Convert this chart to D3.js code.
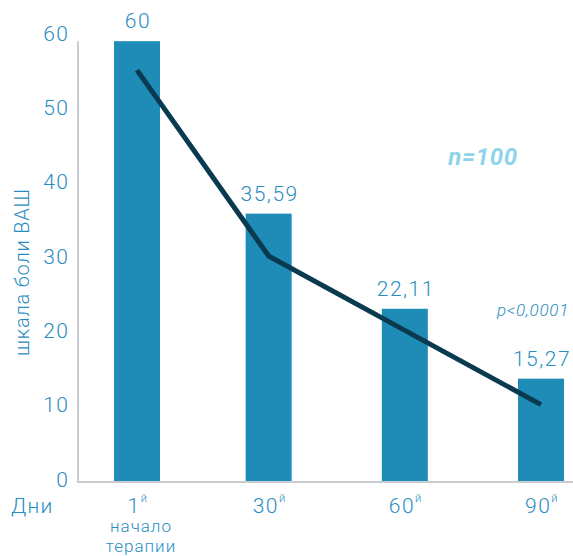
<!DOCTYPE html>
<html>
<head>
<meta charset="utf-8">
<script src="https://cdn.jsdelivr.net/npm/d3@7"></script>
<style>
  body { margin: 0; background: #fff; }
  text { font-family: Roboto, "Liberation Sans", sans-serif; }
</style>
</head>
<body>
<script>
// chart data
const days = [1, 30, 60, 90];
const dayLabels = ["1", "30", "60", "90"];
const barValues = [58.9, 35.7, 22.9, 13.5];
const barLabels = ["60", "35,59", "22,11", "15,27"];
const lineValues = [55, 30, 20, 10];
const yTicks = [0, 10, 20, 30, 40, 50, 60];

const W = 573, H = 556;
const blue = "#1f8cb8", textBlue = "#2a8dbf", dark = "#0a3a50", grey = "#c9cdd1";
const barW = 46;

const svg = d3.select("body").append("svg")
  .attr("width", W).attr("height", H);

const x = d3.scaleLinear().domain([1, 90]).range([137, 541]);
const y = d3.scaleLinear().domain([0, 60]).range([479, 33]);
const base = y(0) + 3;
const left = 78;

function label(sel, size, ls) {
  return sel.style("font-size", size + "px")
    .style("font-weight", 300)
    .style("letter-spacing", ls + "px")
    .attr("fill", textBlue);
}

// bars
svg.selectAll("rect.bar").data(barValues).join("rect")
  .attr("class", "bar")
  .attr("x", (d, i) => x(days[i]) - barW / 2)
  .attr("y", d => y(d))
  .attr("width", barW)
  .attr("height", d => base - y(d))
  .attr("fill", blue);

// axes lines
svg.append("line")
  .attr("x1", left).attr("x2", left)
  .attr("y1", y(d3.max(barValues))).attr("y2", base + 1)
  .attr("stroke", grey).attr("stroke-width", 2);
svg.append("line")
  .attr("x1", left).attr("x2", W)
  .attr("y1", base).attr("y2", base)
  .attr("stroke", grey).attr("stroke-width", 2);

// y tick labels
label(svg.selectAll("text.ytick").data(yTicks).join("text")
  .attr("class", "ytick")
  .attr("x", 69.5).attr("y", d => y(d))
  .attr("dy", "0.36em")
  .attr("text-anchor", "end"), 21, 1.5)
  .text(d => d);

// y axis title
label(svg.append("text")
  .attr("transform", `translate(29,${272}) rotate(-90)`)
  .attr("text-anchor", "middle"), 20, 0.8)
  .text("шкала боли ВАШ");

// x tick labels with superscript
const xt = label(svg.selectAll("text.xtick").data(days).join("text")
  .attr("class", "xtick")
  .attr("x", d => x(d) + 1)
  .attr("y", 513)
  .attr("text-anchor", "middle"), 21, 1.5);
xt.append("tspan").text((d, i) => dayLabels[i]);
xt.append("tspan").style("font-size", "11px").attr("dy", -11).text("й");

label(svg.append("text")
  .attr("x", 11).attr("y", 513), 21, 1.2)
  .text("Дни");

label(svg.append("text")
  .attr("x", x(days[0]) + 4).attr("y", 532)
  .attr("text-anchor", "middle"), 17, 1)
  .text("начало");
label(svg.append("text")
  .attr("x", x(days[0]) + 4).attr("y", 552)
  .attr("text-anchor", "middle"), 17, 1)
  .text("терапии");

// bar value labels
label(svg.selectAll("text.blabel").data(barLabels).join("text")
  .attr("class", "blabel")
  .attr("x", (d, i) => x(days[i]) + 1)
  .attr("y", (d, i) => y(barValues[i]) - 13)
  .attr("text-anchor", "middle"), 21, 1.5)
  .text(d => d);

// trend line
const line = d3.line()
  .x((d, i) => x(days[i]))
  .y(d => y(d));
svg.append("path")
  .datum(lineValues)
  .attr("d", line)
  .attr("fill", "none")
  .attr("stroke", dark)
  .attr("stroke-width", 5);

// annotations
svg.append("text")
  .attr("x", 483).attr("y", 165)
  .attr("text-anchor", "middle")
  .style("font-size", "24px")
  .style("font-weight", 700)
  .style("font-style", "italic")
  .style("letter-spacing", "0.6px")
  .attr("fill", "#8fd3ea")
  .text("n=100");

label(svg.append("text")
  .attr("x", 569).attr("y", 316)
  .attr("text-anchor", "end"), 17, 0.7)
  .style("font-style", "italic")
  .text("p<0,0001");
</script>
</body>
</html>
